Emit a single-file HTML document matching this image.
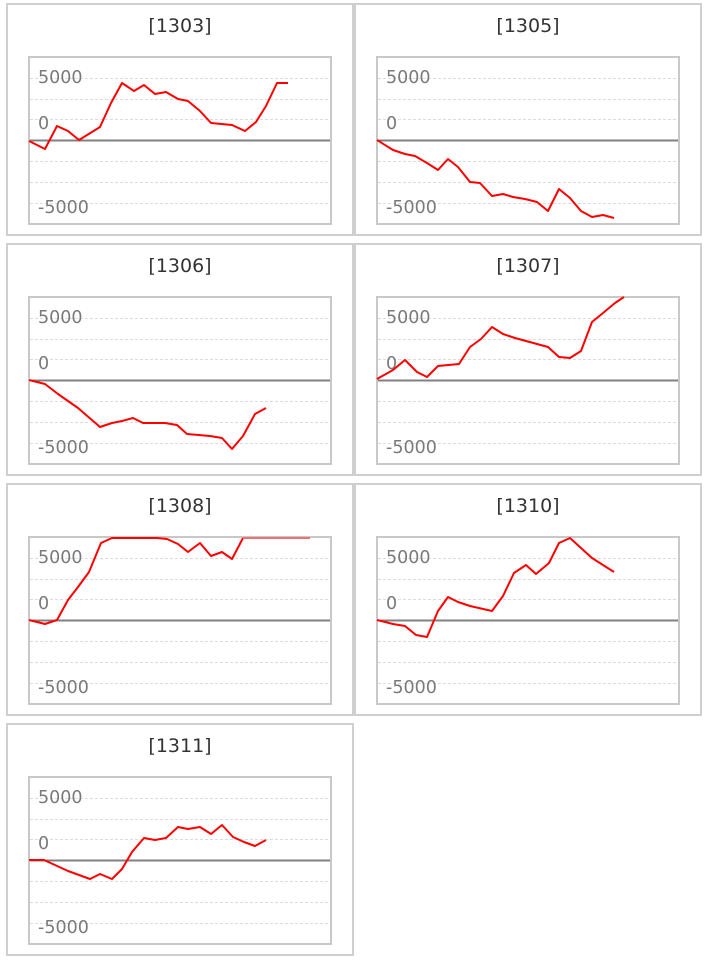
<!DOCTYPE html>
<html><head><meta charset="utf-8"><style>
html,body{margin:0;padding:0;background:#fff}
svg{display:block}
text{font-family:"DejaVu Sans","Liberation Sans",sans-serif}
</style></head><body>
<svg width="707" height="963" viewBox="0 0 707 963" xmlns="http://www.w3.org/2000/svg">
<defs>
<g id="panel">
  <rect x="1" y="1" width="346" height="231" fill="#fff" stroke="#cfcfcf" stroke-width="2"/>
  <rect x="23" y="54" width="302" height="167" fill="#fff" stroke="#c8c8c8" stroke-width="2"/>
  <g stroke="#dcdcdc" stroke-width="1" stroke-dasharray="3,2">
    <line x1="24" x2="324" y1="75.5" y2="75.5"/>
    <line x1="24" x2="324" y1="96.5" y2="96.5"/>
    <line x1="24" x2="324" y1="116.5" y2="116.5"/>
    <line x1="24" x2="324" y1="158.5" y2="158.5"/>
    <line x1="24" x2="324" y1="179.5" y2="179.5"/>
    <line x1="24" x2="324" y1="200.5" y2="200.5"/>
  </g>
  <line x1="24" x2="324" y1="137.5" y2="137.5" stroke="#808080" stroke-width="2"/>
  <g fill="#7a7a7a" font-size="17.5">
    <text x="32" y="80">5000</text>
    <text x="32" y="126">0</text>
    <text x="32" y="210">-5000</text>
  </g>
</g>
</defs>
<use href="#panel" x="6" y="3"/>
<use href="#panel" x="354" y="3"/>
<use href="#panel" x="6" y="243"/>
<use href="#panel" x="354" y="243"/>
<use href="#panel" x="6" y="483"/>
<use href="#panel" x="354" y="483"/>
<use href="#panel" x="6" y="723"/>
<g fill="#333" font-size="19" text-anchor="middle">
<text x="180" y="32">[1303]</text>
<text x="528" y="32">[1305]</text>
<text x="180" y="272">[1306]</text>
<text x="528" y="272">[1307]</text>
<text x="180" y="512">[1308]</text>
<text x="528" y="512">[1310]</text>
<text x="180" y="752">[1311]</text>
</g>
<g fill="none" stroke="#ff0000" stroke-width="2" stroke-linejoin="round">
<polyline points="29,141 45,149 57,126 68,131 79,140 100,127 111,103 122,83 134,91 144,85 155,94 166,92 178,99 188,101 200,111 211,123 232,125 245,131 256,122 266,106 277,83 288,83"/>
<polyline points="377,140 393,150 405,154 415,156 427,163 438,170 448,159 458,167 470,182 480,183 492,196 503,194 513,197 525,199 537,202 548,211 559,189 570,198 581,211 592,217 603,215 614,218"/>
<polyline points="29,380 45,384 58,394 78,408 100,427 112,423 122,421 133,418 143,423 165,423 177,425 187,434 210,436 222,438 232,449 243,436 255,414 266,408"/>
<polyline points="377,379 393,370 405,360 417,372 427,377 438,366 459,364 470,347 481,339 492,327 503,334 515,338 548,347 559,357 570,358 581,351 592,322 603,313 615,303 624,297"/>
<polyline points="29,620 45,624 57,620 68,600 78,587 89,572 101,543 112,538 157,538 167,539 178,544 188,552 200,543 211,556 222,552 232,559 243,538"/>
<polyline points="377,620 393,624 405,626 416,635 427,637 438,611 448,597 458,602 470,606 492,611 503,596 514,573 526,565 536,574 549,563 559,543 570,538 581,548 592,558 614,572"/>
<polyline points="29,860 44,860 68,871 90,879 100,874 112,879 122,869 132,852 144,838 155,840 166,838 178,827 188,829 200,827 211,834 222,825 233,837 244,842 255,846 266,840"/>
</g>
<line x1="243" x2="310" y1="538" y2="538" stroke="#f07070" stroke-width="2"/>
</svg>
</body></html>
